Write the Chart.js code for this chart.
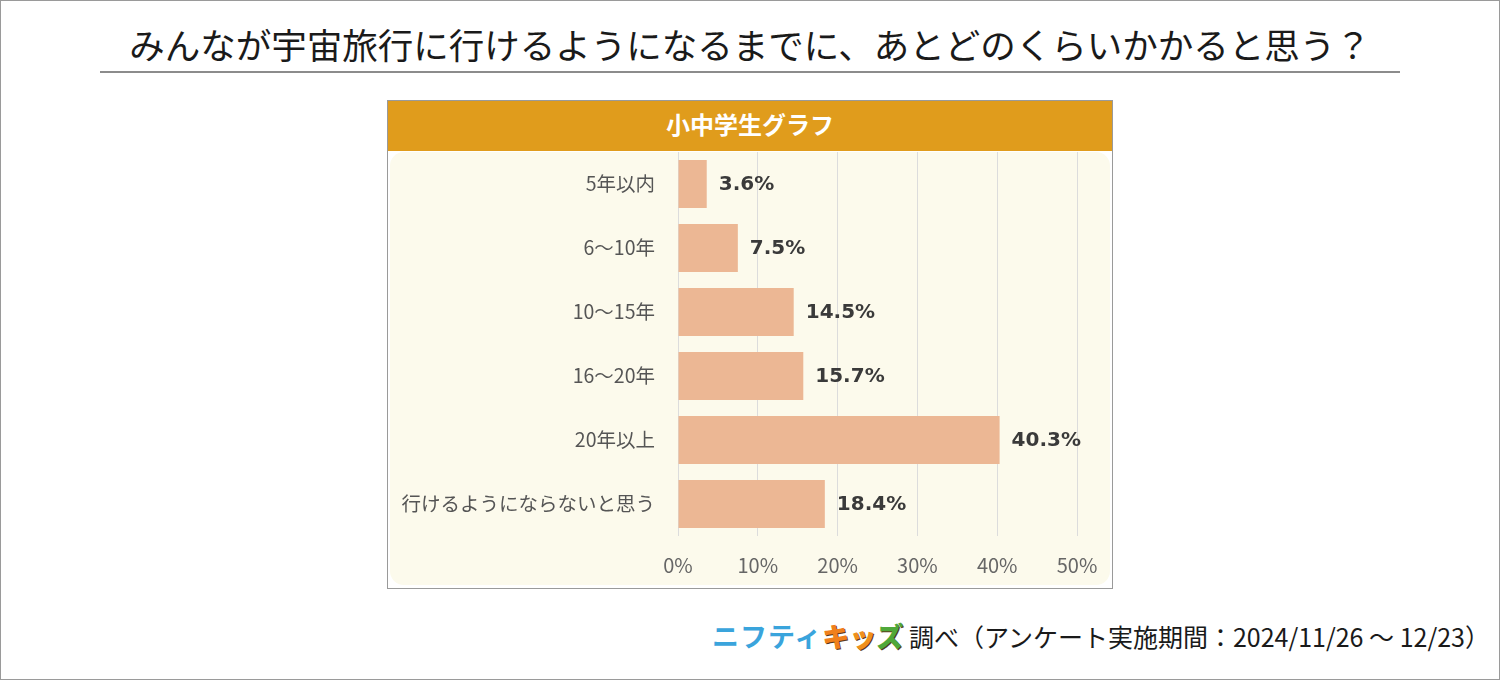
<!DOCTYPE html>
<html lang="ja">
<head>
<meta charset="utf-8">
<script src="https://cdn.jsdelivr.net/npm/chart.js@4"></script>
<style>
  html, body { margin: 0; padding: 0; background: #fff; }
  body { width: 1500px; height: 680px; position: relative; overflow: hidden;
         font-family: "Noto Sans CJK JP", "Noto Sans", sans-serif; }
  .frame { position: absolute; left: 0; top: 0; width: 1498px; height: 678px; border: 1px solid #9a9a9a; }
  .title { position: absolute; left: 0; width: 1500px; top: 18px; text-align: center;
           font-size: 35.5px; line-height: 52px; color: #1a1a1a; }
  .rule { position: absolute; left: 100px; top: 71px; width: 1300px; height: 2px; background: #8c8c8c; }
  .box { position: absolute; left: 387px; top: 100px; width: 724px; height: 487px; border: 1px solid #9a9a9a; background: #fff; }
  .head { position: absolute; left: 0; top: 0; width: 724px; height: 50px; background: #e09c1c;
          color: #fff; font-weight: bold; font-size: 24px; line-height: 46px; text-align: center; }
  .cream { position: absolute; left: 2px; top: 51px; width: 720px; height: 433px; background: #fcfaec; border-radius: 14px; }
  #chart { position: absolute; left: 388px; top: 151px; }
  .foot { position: absolute; right: 10px; top: 616px; font-size: 25px; line-height: 40px; color: #1a1a1a; white-space: nowrap; }
  .logo1 { color: #3aa4dc; font-weight: bold; font-size: 27px; letter-spacing: 1px; }
  .logo2 { font-weight: 900; font-size: 27px; text-shadow: 1px 1px 0 #5a3a1a, -1px 0 0 #fff, 0 -1px 0 #fff; }
</style>
</head>
<body>
<div class="frame"></div>
<div class="title">みんなが宇宙旅行に行けるようになるまでに、あとどのくらいかかると思う？</div>
<div class="rule"></div>
<div class="box">
  <div class="head">小中学生グラフ</div>
  <div class="cream"></div>
</div>
<canvas id="chart" width="724" height="436"></canvas>
<div class="foot"><span class="logo1">ニフティ</span><span class="logo2"><span style="color:#f0801c">キ</span><span style="color:#f0901c">ッ</span><span style="color:#4fa83a">ズ</span></span> 調べ（アンケート実施期間：2024/11/26 ～ 12/23）</div>

<script>
const categories = ['5年以内', '6～10年', '10～15年', '16～20年', '20年以上', '行けるようにならないと思う'];
const percents = [3.6, 7.5, 14.5, 15.7, 40.3, 18.4];
const xTicks = [0, 10, 20, 30, 40, 50];

const valueLabels = {
    id: 'valueLabels',
    afterDatasetsDraw: chart => {
        const ctx = chart.ctx;
        const meta = chart.getDatasetMeta(0);
        ctx.save();
        ctx.font = 'bold 20px "DejaVu Sans", sans-serif';
        ctx.fillStyle = '#3a3a3a';
        ctx.textAlign = 'left';
        ctx.textBaseline = 'middle';
        meta.data.forEach((bar, i) => {
            ctx.fillText(percents[i].toFixed(1) + '%', bar.x + 12, bar.y + 1);
        });
        ctx.restore();
    }
};

new Chart(document.getElementById('chart'), {
    type: 'bar',
    data: {
        labels: categories,
        datasets: [{
            data: percents,
            backgroundColor: '#ecb794',
            borderWidth: 0,
            barPercentage: 0.75,
            categoryPercentage: 1
        }]
    },
    options: {
        indexAxis: 'y',
        responsive: false,
        animation: false,
        devicePixelRatio: 1,
        layout: { padding: { top: 1, right: 35, left: 0, bottom: 0 } },
        plugins: { legend: { display: false }, tooltip: { enabled: false } },
        scales: {
            x: {
                min: 0,
                max: 50,
                afterBuildTicks: scale => { scale.ticks = xTicks.map(v => ({ value: v })); },
                afterFit: scale => {
                    scale.height = 51;
                    scale.paddingLeft = 0;
                    scale.paddingRight = 0;
                },
                grid: { color: '#dcdcdc', lineWidth: 1, drawTicks: false },
                border: { display: false },
                ticks: {
                    padding: 17,
                    color: '#666',
                    font: { family: '"Noto Sans CJK JP", sans-serif', size: 20 },
                    callback: v => v + '%'
                }
            },
            y: {
                afterFit: scale => {
                    scale.width = 290;
                    scale.paddingTop = 0;
                    scale.paddingBottom = 0;
                },
                grid: { display: false, drawTicks: false },
                border: { display: false },
                ticks: {
                    padding: 23,
                    color: '#555',
                    font: { family: '"Noto Sans CJK JP", sans-serif', size: 19.5 }
                }
            }
        }
    },
    plugins: [valueLabels]
});
</script>
</body>
</html>
